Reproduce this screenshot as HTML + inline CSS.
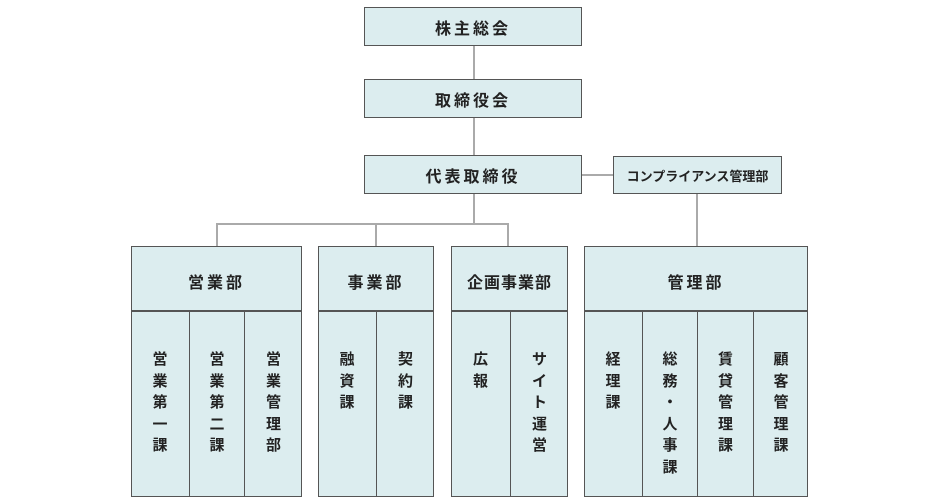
<!DOCTYPE html>
<html><head><meta charset="utf-8"><style>
html,body{margin:0;width:944px;height:500px;overflow:hidden}
body{background:#fff;position:relative;font-family:"Liberation Sans","Noto Sans CJK JP",sans-serif;color:#222}
.b{position:absolute;box-sizing:border-box;background:#dcedef;border:1.5px solid #555;display:flex;align-items:center;justify-content:center;font-size:16px;letter-spacing:3px;font-weight:bold}
.l{position:absolute;background:#aaa}
.v{position:absolute;box-sizing:border-box;border-left:1.5px solid #555;top:311px;height:185px;text-align:center;font-size:15px;line-height:21.5px;font-weight:bold}
.v span{position:absolute;left:0;right:0;top:38px}
</style></head><body>
<div class="b" style="left:364px;top:7px;width:218px;height:39px">株主総会</div>
<div class="b" style="left:364px;top:79px;width:218px;height:39px">取締役会</div>
<div class="b" style="left:364px;top:155px;width:218px;height:39px">代表取締役</div>
<div class="b" style="left:613px;top:156px;width:169px;height:38px;font-size:13px;letter-spacing:0">コンプライアンス管理部</div>
<div class="l" style="left:473px;top:46px;width:2px;height:33px"></div>
<div class="l" style="left:473px;top:118px;width:2px;height:37px"></div>
<div class="l" style="left:582px;top:174px;width:31px;height:2px"></div>
<div class="l" style="left:473px;top:194px;width:2px;height:30px"></div>
<div class="l" style="left:216px;top:223px;width:293px;height:2px"></div>
<div class="l" style="left:216px;top:223px;width:2px;height:24px"></div>
<div class="l" style="left:375px;top:223px;width:2px;height:24px"></div>
<div class="l" style="left:507px;top:223px;width:2px;height:24px"></div>
<div class="l" style="left:696px;top:194px;width:2px;height:53px"></div>

<div class="b" style="left:131px;top:246px;width:171px;height:251px;align-items:flex-start;padding-top:22px">営業部</div>
<div class="b" style="left:318px;top:246px;width:116px;height:251px;align-items:flex-start;padding-top:22px">事業部</div>
<div class="b" style="left:451px;top:246px;width:117px;height:251px;align-items:flex-start;padding-top:22px;letter-spacing:1px">企画事業部</div>
<div class="b" style="left:584px;top:246px;width:224px;height:251px;align-items:flex-start;padding-top:22px">管理部</div>
<div class="l" style="left:131px;top:310px;width:171px;height:1.5px;background:#555"></div>
<div class="l" style="left:318px;top:310px;width:116px;height:1.5px;background:#555"></div>
<div class="l" style="left:451px;top:310px;width:117px;height:1.5px;background:#555"></div>
<div class="l" style="left:584px;top:310px;width:224px;height:1.5px;background:#555"></div>

<div class="v" style="left:131px;width:58px;border-left:none"><span>営<br>業<br>第<br>一<br>課</span></div>
<div class="v" style="left:189px;width:55px"><span>営<br>業<br>第<br>二<br>課</span></div>
<div class="v" style="left:244px;width:58px"><span>営<br>業<br>管<br>理<br>部</span></div>
<div class="v" style="left:318px;width:58px;border-left:none"><span>融<br>資<br>課</span></div>
<div class="v" style="left:376px;width:58px"><span>契<br>約<br>課</span></div>
<div class="v" style="left:451px;width:59px;border-left:none"><span>広<br>報</span></div>
<div class="v" style="left:510px;width:58px"><span>サ<br>イ<br>ト<br>運<br>営</span></div>
<div class="v" style="left:584px;width:58px;border-left:none"><span>経<br>理<br>課</span></div>
<div class="v" style="left:642px;width:55px"><span>総<br>務<br>・<br>人<br>事<br>課</span></div>
<div class="v" style="left:697px;width:56px"><span>賃<br>貸<br>管<br>理<br>課</span></div>
<div class="v" style="left:753px;width:55px"><span>顧<br>客<br>管<br>理<br>課</span></div>
</body></html>
